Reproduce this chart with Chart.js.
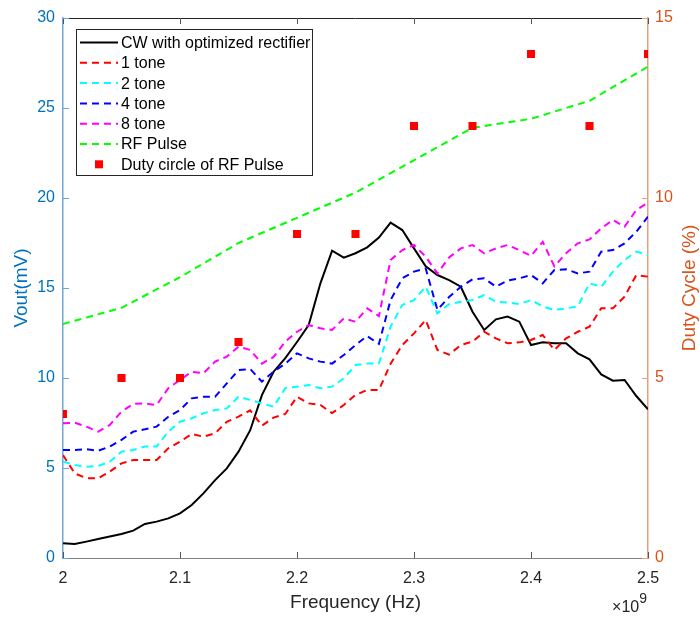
<!DOCTYPE html>
<html lang="en">
<head>
<meta charset="utf-8">
<title>Vout and duty cycle vs frequency</title>
<script src="https://cdn.jsdelivr.net/npm/chart.js@4.4.0/dist/chart.umd.min.js"></script>
<style>
  html, body { margin: 0; padding: 0; background: #fff; }
  #wrap { width: 700px; height: 617px; }
</style>
</head>
<body>
<div id="wrap"><canvas id="chart"></canvas></div>
<script>
// frequency in units of 1e9 Hz
const freq = [2.00, 2.01, 2.02, 2.03, 2.04, 2.05, 2.06, 2.07, 2.08, 2.09,
              2.10, 2.11, 2.12, 2.13, 2.14, 2.15, 2.16, 2.17, 2.18, 2.19,
              2.20, 2.21, 2.22, 2.23, 2.24, 2.25, 2.26, 2.27, 2.28, 2.29,
              2.30, 2.31, 2.32, 2.33, 2.34, 2.35, 2.36, 2.37, 2.38, 2.39,
              2.40, 2.41, 2.42, 2.43, 2.44, 2.45, 2.46, 2.47, 2.48, 2.49, 2.50]

const cw = [0.82, 0.78, 0.91, 1.05, 1.19, 1.33, 1.52, 1.89, 2.02, 2.2,
            2.48, 2.94, 3.59, 4.33, 4.98, 5.91, 7.1, 9.05, 10.35, 11.1,
            12.0, 12.94, 15.26, 17.07, 16.69, 16.93, 17.26, 17.8, 18.63, 18.22,
            17.2, 16.2, 15.72, 15.44, 15.07, 13.68, 12.67, 13.26, 13.41, 13.13,
            11.83, 11.98, 11.93, 11.93, 11.37, 11.04, 10.2, 9.85, 9.89, 9.0, 8.26]

const tone1 = [5.72, 4.7, 4.43, 4.43, 4.8, 5.26, 5.44, 5.44, 5.44, 6.09,
               6.46, 6.89, 6.74, 6.93, 7.57, 7.85, 8.2, 7.35, 7.8, 8.0,
               8.96, 8.59, 8.5, 8.05, 8.5, 9.06, 9.33, 9.33, 10.8, 11.83,
               12.48, 13.22, 11.56, 11.3, 11.83, 12.02, 12.57, 12.2, 11.93, 11.98,
               12.11, 12.39, 11.56, 12.2, 12.57, 12.85, 13.87, 13.87, 14.52, 15.72, 15.63]

const tone2 = [5.35, 5.17, 5.07, 5.11, 5.35, 5.91, 6.0, 6.19, 6.19, 7.02,
               7.57, 7.76, 8.04, 8.22, 8.31, 8.96, 8.78, 8.59, 8.41, 9.43,
               9.52, 9.61, 9.43, 9.52, 9.98, 10.72, 10.8, 10.8, 12.85, 14.06,
               14.33, 15.07, 13.59, 14.1, 14.24, 14.33, 14.6, 14.24, 14.19, 14.11,
               14.33, 13.98, 13.78, 13.87, 13.98, 15.26, 15.07, 15.91, 16.56, 17.02, 16.83]

const tone4 = [6.0, 6.0, 6.04, 5.96, 6.19, 6.56, 7.02, 7.15, 7.3, 7.85,
               8.22, 8.87, 8.96, 8.96, 9.7, 10.44, 10.5, 9.8, 10.35, 10.8,
               11.37, 11.09, 10.91, 10.8, 11.28, 11.83, 12.33, 11.89, 14.33, 15.54,
               15.91, 16.09, 13.78, 14.5, 15.07, 15.48, 15.54, 15.07, 15.41, 15.54,
               15.72, 15.26, 16.0, 16.04, 15.81, 15.91, 17.02, 17.11, 17.48, 18.13, 18.96]

const tone8 = [7.48, 7.52, 7.3, 7.02, 7.39, 8.13, 8.56, 8.59, 8.5, 9.43,
               9.89, 10.35, 10.26, 10.91, 11.19, 11.74, 11.56, 10.8, 11.17, 12.02,
               12.57, 12.94, 12.76, 12.67, 13.31, 13.13, 13.87, 13.44, 16.56, 17.11,
               17.39, 16.74, 15.81, 16.7, 17.2, 17.39, 16.93, 17.2, 17.39, 17.11,
               16.78, 17.57, 16.2, 16.93, 17.48, 17.7, 18.31, 18.78, 18.41, 19.33, 19.74]

const pulseFreq = [2.00, 2.05, 2.10, 2.15, 2.20, 2.25, 2.30, 2.35, 2.40, 2.45, 2.50]
const rfPulse = [13.0, 13.9, 15.6, 17.5, 18.9, 20.3, 22.1, 23.9, 24.4, 25.4, 27.3]
const dutyCycle = [4, 5, 5, 6, 9, 9, 12, 12, 14, 12, 14]

const xTicks = [2, 2.1, 2.2, 2.3, 2.4, 2.5]
const leftTicks = [0, 5, 10, 15, 20, 25, 30]
const rightTicks = [0, 5, 10, 15]

const blue = "rgb(0, 114, 189)"
const orange = "rgb(217, 83, 25)"
const font = "'Liberation Sans', Arial, Helvetica, sans-serif"

function pts(xs, ys) {
	return xs.map((x, i) => ({ x: x, y: ys[i] }))
}

function lineSet(label, xs, ys, color, dashed, i) {
	return {
		type: "line",
		label: label,
		data: pts(xs, ys),
		borderColor: color,
		backgroundColor: color,
		borderWidth: 2,
		borderDash: dashed ? [7, 5] : [],
		pointRadius: 0,
		tension: 0,
		yAxisID: "y",
		order: 10 - i
	}
}

const datasets = [
	lineSet("CW with optimized rectifier", freq, cw, "#000000", false, 0),
	lineSet("1 tone", freq, tone1, "#ff0000", true, 1),
	lineSet("2 tone", freq, tone2, "#00ffff", true, 2),
	lineSet("4 tone", freq, tone4, "#0000ff", true, 3),
	lineSet("8 tone", freq, tone8, "#ff00ff", true, 4),
	lineSet("RF Pulse", pulseFreq, rfPulse, "#00ff00", true, 5),
	{
		type: "scatter",
		label: "Duty circle of RF Pulse",
		data: pts(pulseFreq, dutyCycle),
		pointStyle: "rect",
		pointRadius: 5.7,
		backgroundColor: "#ff0000",
		borderColor: "#ff0000",
		borderWidth: 0,
		showLine: false,
		yAxisID: "y2",
		order: 1
	}
]

// inward ticks, top box edge, legend, exponent and right-hand label
const decorations = {
	id: "decorations",
	afterDraw(chart) {
		const ctx = chart.ctx
		const a = chart.chartArea
		const sx = chart.scales.x, sy = chart.scales.y, sy2 = chart.scales.y2
		ctx.save()

		ctx.lineWidth = 1
		ctx.strokeStyle = "#262626"
		ctx.beginPath()
		ctx.moveTo(a.left, a.top + 0.5)
		ctx.lineTo(a.right, a.top + 0.5)
		ctx.stroke()

		ctx.strokeStyle = "#555"
		xTicks.forEach(v => {
			const px = Math.round(sx.getPixelForValue(v)) + 0.5
			ctx.beginPath()
			ctx.moveTo(px, a.bottom); ctx.lineTo(px, a.bottom - 6)
			ctx.moveTo(px, a.top); ctx.lineTo(px, a.top + 6)
			ctx.stroke()
		})
		ctx.strokeStyle = "#6fa8d6"
		leftTicks.forEach(v => {
			const py = Math.round(sy.getPixelForValue(v)) + 0.5
			ctx.beginPath(); ctx.moveTo(a.left, py); ctx.lineTo(a.left + 6, py); ctx.stroke()
		})
		ctx.strokeStyle = "#e6a080"
		rightTicks.forEach(v => {
			const py = Math.round(sy2.getPixelForValue(v)) + 0.5
			ctx.beginPath(); ctx.moveTo(a.right, py); ctx.lineTo(a.right - 6, py); ctx.stroke()
		})

		// legend box
		const bx = 76.5, by = 29.5, bw = 236, bh = 146
		ctx.fillStyle = "#fff"
		ctx.fillRect(bx, by, bw, bh)
		ctx.strokeStyle = "#262626"
		ctx.lineWidth = 1
		ctx.strokeRect(bx, by, bw, bh)
		ctx.font = "16px " + font
		ctx.textBaseline = "middle"
		ctx.textAlign = "left"
		chart.data.datasets.forEach((ds, i) => {
			const ry = 42.5 + i * 20.3
			if (ds.type === "scatter") {
				ctx.fillStyle = ds.backgroundColor
				ctx.fillRect(95, ry - 4, 8, 8)
			} else {
				ctx.strokeStyle = ds.borderColor
				ctx.lineWidth = ds.borderWidth
				ctx.setLineDash(ds.borderDash)
				ctx.beginPath(); ctx.moveTo(80, ry); ctx.lineTo(118, ry); ctx.stroke()
				ctx.setLineDash([])
			}
			ctx.fillStyle = "#000"
			ctx.fillText(ds.label, 121, ry + 1)
		})

		// x10^9 exponent
		ctx.fillStyle = "#262626"
		ctx.textAlign = "right"
		ctx.textBaseline = "alphabetic"
		ctx.font = "14px " + font
		ctx.fillText("9", 647, 603)
		const w9 = ctx.measureText("9").width
		ctx.font = "16px " + font
		ctx.fillText("\u00d710", 647 - w9, 612)

		// right axis title
		ctx.fillStyle = orange
		ctx.font = "19px " + font
		ctx.textAlign = "center"
		ctx.textBaseline = "middle"
		ctx.translate(690, (a.top + a.bottom) / 2)
		ctx.rotate(-Math.PI / 2)
		ctx.fillText("Duty Cycle (%)", 0, 0)
		ctx.restore()
	}
}

new Chart(document.getElementById("chart"), {
	data: { datasets: datasets },
	plugins: [decorations],
	options: {
		responsive: true,
		maintainAspectRatio: false,
		animation: false,
		devicePixelRatio: 1,
		layout: { padding: { top: 18, left: 0, right: 0, bottom: 0 } },
		plugins: {
			legend: { display: false },
			tooltip: { enabled: false }
		},
		scales: {
			x: {
				type: "linear",
				min: 2,
				max: 2.5,
				afterBuildTicks: s => { s.ticks = xTicks.map(v => ({ value: v })) },
				ticks: {
					color: "#262626",
					font: { family: font, size: 16 },
					padding: 11,
					maxRotation: 0,
					callback: v => String(Math.round(v * 10) / 10)
				},
				grid: { display: false, drawTicks: false },
				border: { color: "#808080", width: 1 },
				title: {
					display: true,
					text: "Frequency (Hz)",
					color: "#262626",
					font: { family: font, size: 19 },
					padding: { top: 0, bottom: 3 }
				},
				afterFit: s => { s.height = 59 }
			},
			y: {
				position: "left",
				min: 0,
				max: 30,
				afterBuildTicks: s => { s.ticks = leftTicks.map(v => ({ value: v })) },
				ticks: { color: blue, font: { family: font, size: 16 }, padding: 8 },
				grid: { display: false, drawTicks: false },
				border: { color: "#6fa8d6", width: 1.5 },
				title: {
					display: true,
					text: "Vout(mV)",
					color: blue,
					font: { family: font, size: 19 },
					padding: { top: 10, bottom: 0 }
				},
				afterFit: s => { s.width = 63 }
			},
			y2: {
				position: "right",
				min: 0,
				max: 15,
				afterBuildTicks: s => { s.ticks = rightTicks.map(v => ({ value: v })) },
				ticks: { color: orange, font: { family: font, size: 16 }, padding: 7 },
				grid: { display: false, drawTicks: false },
				border: { color: "#e6a080", width: 1.5 },
				afterFit: s => { s.width = 52 }
			}
		}
	}
})
</script>
</body>
</html>
